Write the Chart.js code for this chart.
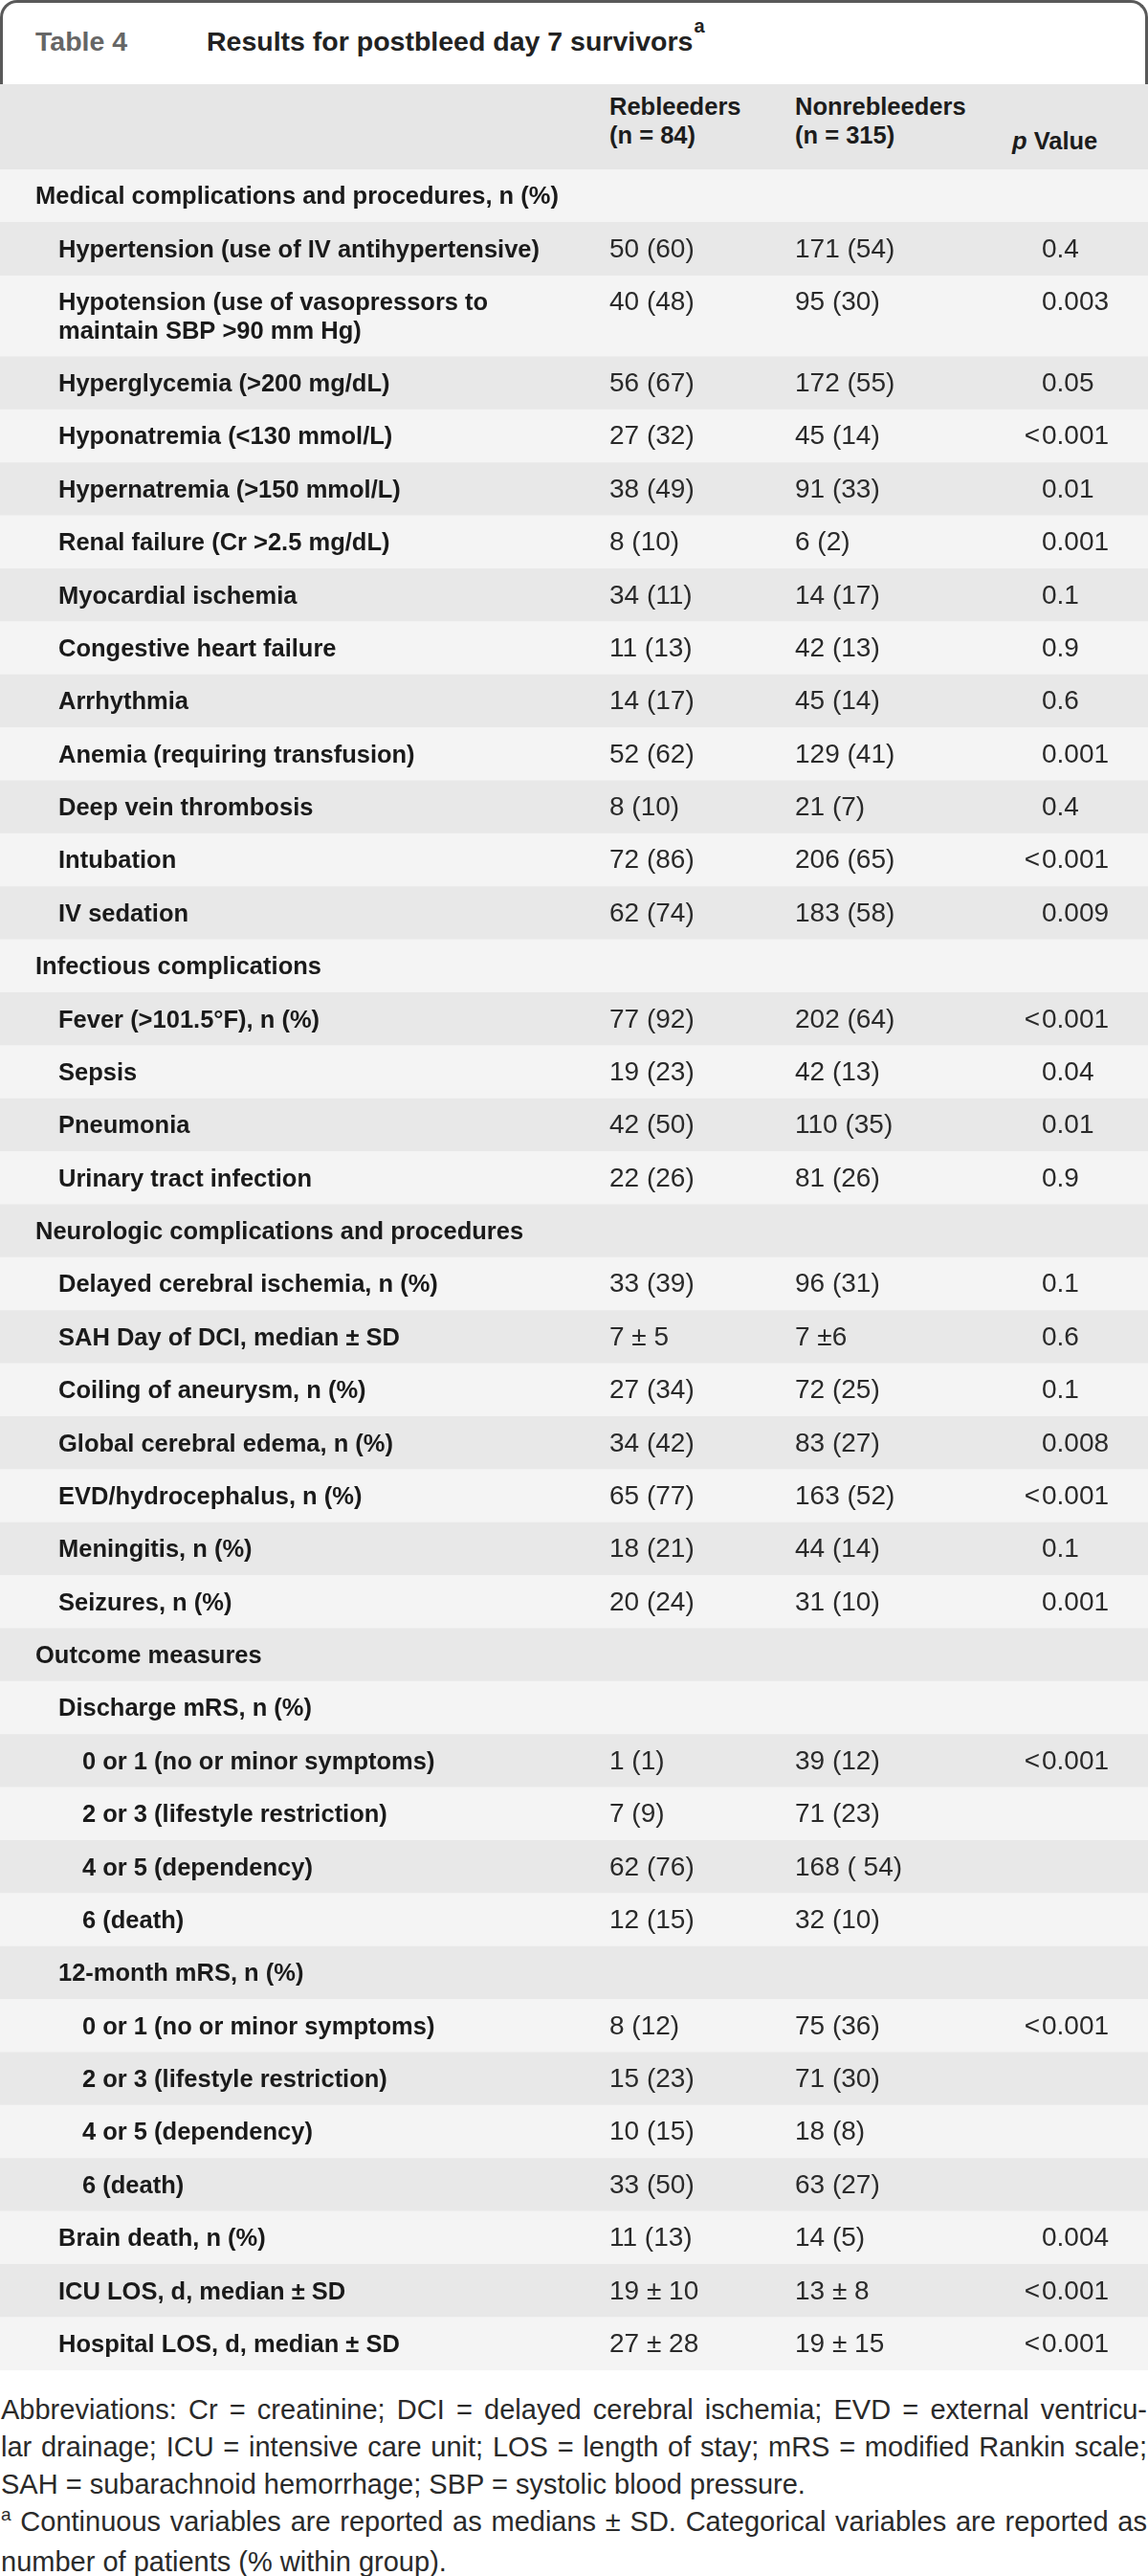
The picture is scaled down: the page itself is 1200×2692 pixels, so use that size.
<!DOCTYPE html>
<html>
<head>
<meta charset="utf-8">
<script src="https://cdn.jsdelivr.net/npm/chart.js@4.4.0/dist/chart.umd.min.js"></script>
<style>
  body { margin: 0; background: #fff; width: 1200px; height: 2692px; position: relative; overflow: hidden;
         font-family: "Liberation Sans", Arial, sans-serif; color: #1c1c1c; }
  .tab { position: absolute; left: 0; top: 0; width: 1200px; height: 88px; box-sizing: border-box;
         border: 3px solid #595959; border-bottom: none; border-radius: 18px 18px 0 0; }
  .t { position: absolute; white-space: nowrap; line-height: 0; font-weight: bold; }
  .hdr { position: absolute; left: 0; top: 88px; width: 1200px; height: 89px; background: #e6e6e6; }
  #table { position: absolute; left: 0; top: 177px; background: #eeeeee; }
  .notes { position: absolute; left: 1px; top: 2499px; width: 1198px; font-size: 29px; line-height: 39px; color: #2a2a2a; }
  .notes div { text-align: justify; }
  .notes .j { text-align-last: justify; }
  .sup { position: relative; }
</style>
</head>
<body>
<div class="tab"></div>
<div class="t" style="left:37px; top:43.1px; font-size:28.5px; color:#666">Table 4</div>
<div class="t" style="left:216px; top:43.1px; font-size:28.5px; color:#222">Results for postbleed day 7 survivors<span class="sup" style="font-size:20px; top:-19px; margin-left:1px">a</span></div>
<div class="hdr"></div>
<div class="t" style="left:637px; top:111.2px; font-size:25.5px">Rebleeders</div>
<div class="t" style="left:637px; top:141.2px; font-size:25.5px">(n = 84)</div>
<div class="t" style="left:831px; top:111.2px; font-size:25.5px">Nonrebleeders</div>
<div class="t" style="left:831px; top:141.2px; font-size:25.5px">(n = 315)</div>
<div class="t" style="left:1058px; top:147.2px; font-size:25.5px"><i>p</i> Value</div>
<canvas id="table" width="1200" height="2300"></canvas>
<div class="notes">
  <div class="j">Abbreviations: Cr = creatinine; DCI = delayed cerebral ischemia; EVD = external ventricu-</div>
  <div class="j">lar drainage; ICU = intensive care unit; LOS = length of stay; mRS = modified Rankin scale;</div>
  <div>SAH = subarachnoid hemorrhage; SBP = systolic blood pressure.</div>
  <div class="j"><span class="sup" style="font-size:19px; top:-11px">a</span> Continuous variables are reported as medians ± SD. Categorical variables are reported as</div>
  <div>number of patients (% within group).</div>
</div>
<script>
const rowLabels = [
    'Medical complications and procedures, n (%)',
    'Hypertension (use of IV antihypertensive)',
    'Hypotension (use of vasopressors to\nmaintain SBP >90 mm Hg)',
    'Hyperglycemia (>200 mg/dL)',
    'Hyponatremia (<130 mmol/L)',
    'Hypernatremia (>150 mmol/L)',
    'Renal failure (Cr >2.5 mg/dL)',
    'Myocardial ischemia',
    'Congestive heart failure',
    'Arrhythmia',
    'Anemia (requiring transfusion)',
    'Deep vein thrombosis',
    'Intubation',
    'IV sedation',
    'Infectious complications',
    'Fever (>101.5°F), n (%)',
    'Sepsis',
    'Pneumonia',
    'Urinary tract infection',
    'Neurologic complications and procedures',
    'Delayed cerebral ischemia, n (%)',
    'SAH Day of DCI, median ± SD',
    'Coiling of aneurysm, n (%)',
    'Global cerebral edema, n (%)',
    'EVD/hydrocephalus, n (%)',
    'Meningitis, n (%)',
    'Seizures, n (%)',
    'Outcome measures',
    'Discharge mRS, n (%)',
    '0 or 1 (no or minor symptoms)',
    '2 or 3 (lifestyle restriction)',
    '4 or 5 (dependency)',
    '6 (death)',
    '12-month mRS, n (%)',
    '0 or 1 (no or minor symptoms)',
    '2 or 3 (lifestyle restriction)',
    '4 or 5 (dependency)',
    '6 (death)',
    'Brain death, n (%)',
    'ICU LOS, d, median ± SD',
    'Hospital LOS, d, median ± SD'
]
// 0 = section heading, 1 = item, 2 = sub item
const rowLevels = [0, 1, 1, 1, 1, 1, 1, 1, 1, 1, 1, 1, 1, 1,
    0, 1, 1, 1, 1,
    0, 1, 1, 1, 1, 1, 1, 1,
    0, 1, 2, 2, 2, 2, 1, 2, 2, 2, 2, 1, 1, 1]
const rebleeders = ['', '50 (60)', '40 (48)', '56 (67)', '27 (32)', '38 (49)', '8 (10)', '34 (11)', '11 (13)', '14 (17)',
    '52 (62)', '8 (10)', '72 (86)', '62 (74)',
    '', '77 (92)', '19 (23)', '42 (50)', '22 (26)',
    '', '33 (39)', '7 ± 5', '27 (34)', '34 (42)', '65 (77)', '18 (21)', '20 (24)',
    '', '', '1 (1)', '7 (9)', '62 (76)', '12 (15)', '', '8 (12)', '15 (23)', '10 (15)', '33 (50)',
    '11 (13)', '19 ± 10', '27 ± 28']
const nonrebleeders = ['', '171 (54)', '95 (30)', '172 (55)', '45 (14)', '91 (33)', '6 (2)', '14 (17)', '42 (13)', '45 (14)',
    '129 (41)', '21 (7)', '206 (65)', '183 (58)',
    '', '202 (64)', '42 (13)', '110 (35)', '81 (26)',
    '', '96 (31)', '7 ±6', '72 (25)', '83 (27)', '163 (52)', '44 (14)', '31 (10)',
    '', '', '39 (12)', '71 (23)', '168 ( 54)', '32 (10)', '', '75 (36)', '71 (30)', '18 (8)', '63 (27)',
    '14 (5)', '13 ± 8', '19 ± 15']
const pValues = ['', '0.4', '0.003', '0.05', '<0.001', '0.01', '0.001', '0.1', '0.9', '0.6',
    '0.001', '0.4', '<0.001', '0.009',
    '', '<0.001', '0.04', '0.01', '0.9',
    '', '0.1', '0.6', '0.1', '0.008', '<0.001', '0.1', '0.001',
    '', '', '<0.001', '', '', '', '', '<0.001', '', '', '',
    '0.004', '<0.001', '<0.001']

const rowColors = ['#f4f4f4', '#e8e8e8']
const indentX = [37, 61, 86]
const colX = { reb: 637, non: 831, p: 1089 }
const extraLine = 0.535 // a wrapped label line, in row units
const capShift = 8.6

// row layout in row units (y axis)
const rowHeights = rowLabels.map(l => 1 + (l.split('\n').length - 1) * extraLine)
const rowStarts = []
let total = 0
rowHeights.forEach(h => { rowStarts.push(total); total += h })

const singleRows = []
const wrappedRows = []
rowLabels.forEach((l, i) => {
    const point = { x: [0, 1200], y: rowStarts[i] + rowHeights[i] / 2, row: i }
    if (rowHeights[i] > 1) wrappedRows.push(point)
    else singleRows.push(point)
})

function drawText(ctx, text, x, y, align) {
    ctx.textAlign = align || 'left'
    ctx.fillText(text, x, y)
}

const tableText = {
    id: 'tableText',
    afterDatasetsDraw(chart) {
        const { ctx, scales: { x, y } } = chart
        const lineGap = y.getPixelForValue(extraLine) - y.getPixelForValue(0)
        ctx.save()
        ctx.textBaseline = 'alphabetic'
        rowLabels.forEach((label, i) => {
            const base = y.getPixelForValue(rowStarts[i] + 0.5) + capShift
            ctx.font = 'bold 25.5px "Liberation Sans"'
            ctx.fillStyle = '#1a1a1a'
            label.split('\n').forEach((line, k) => {
                drawText(ctx, line, x.getPixelForValue(indentX[rowLevels[i]]), base + k * lineGap)
            })
            ctx.font = '28px "Liberation Sans"'
            ctx.fillStyle = '#2a2a2a'
            drawText(ctx, rebleeders[i], x.getPixelForValue(colX.reb), base)
            drawText(ctx, nonrebleeders[i], x.getPixelForValue(colX.non), base)
            const p = pValues[i]
            if (p.startsWith('<')) {
                drawText(ctx, '<', x.getPixelForValue(colX.p) - 2, base, 'right')
                drawText(ctx, p.slice(1), x.getPixelForValue(colX.p), base)
            } else {
                drawText(ctx, p, x.getPixelForValue(colX.p), base)
            }
        })
        ctx.restore()
    }
}

const barColor = c => rowColors[c.raw ? c.raw.row % 2 : 0]

new Chart(document.getElementById('table'), {
    type: 'bar',
    data: {
        datasets: [{
            data: singleRows,
            backgroundColor: barColor,
            borderWidth: 0,
            grouped: false,
            barPercentage: 1,
            categoryPercentage: 1
        }, {
            data: wrappedRows,
            backgroundColor: barColor,
            borderWidth: 0,
            grouped: false,
            barPercentage: 1 + extraLine,
            categoryPercentage: 1
        }]
    },
    options: {
        indexAxis: 'y',
        responsive: false,
        animation: false,
        events: [],
        layout: { padding: 0 },
        plugins: { legend: { display: false }, tooltip: { enabled: false } },
        scales: {
            x: { type: 'linear', min: 0, max: 1200, display: false, offset: false },
            y: { type: 'linear', min: 0, max: total, reverse: true, display: false, offset: false, ticks: { stepSize: 100 } }
        }
    },
    plugins: [tableText]
})
</script>
</body>
</html>
